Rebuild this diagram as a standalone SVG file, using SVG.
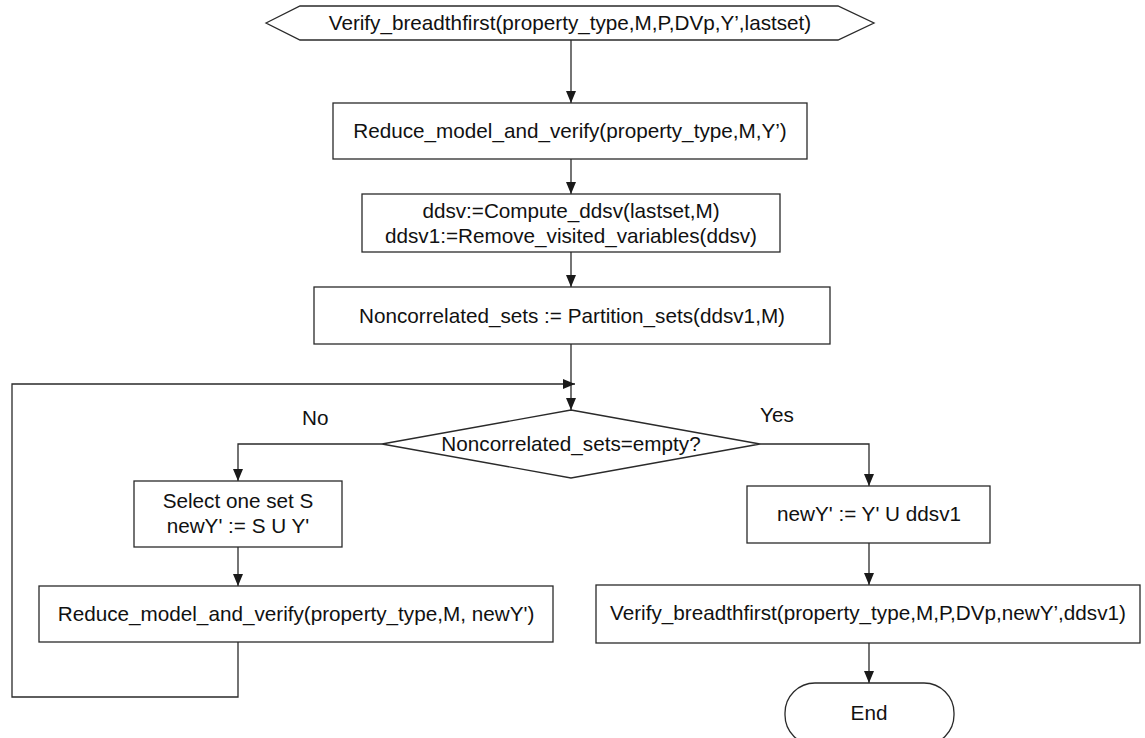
<svg xmlns="http://www.w3.org/2000/svg" width="1145" height="738" viewBox="0 0 1145 738">
  <defs>
    <marker id="arrow" viewBox="0 0 12 10" refX="12" refY="5" markerWidth="12" markerHeight="10" markerUnits="userSpaceOnUse" orient="auto">
      <path d="M0,0 L12,5 L0,10 z" fill="#1a1a1a"/>
    </marker>
    <style>
      .shape { fill: #ffffff; stroke: #2a2a2a; stroke-width: 1.3; }
      .edge { fill: none; stroke: #2a2a2a; stroke-width: 1.3; }
      .lbl { font-family: "Liberation Sans", Arial, Helvetica, sans-serif; font-size: 20.7px; fill: #111111; text-anchor: middle; }
      .tag { font-family: "Liberation Sans", Arial, Helvetica, sans-serif; font-size: 20.7px; fill: #111111; }
    </style>
  </defs>
  <rect width="1145" height="738" fill="#ffffff"/>

  <!-- connectors -->
  <g id="connectors">
    <line class="edge" x1="571" y1="40" x2="571" y2="103" marker-end="url(#arrow)"/>
    <line class="edge" x1="571" y1="159" x2="571" y2="194" marker-end="url(#arrow)"/>
    <line class="edge" x1="571" y1="252" x2="571" y2="287" marker-end="url(#arrow)"/>
    <line class="edge" x1="571" y1="344" x2="571" y2="410" marker-end="url(#arrow)"/>
    <!-- loop back from the No branch -->
    <polyline class="edge" points="238,642 238,697 12,697 12,384 575,384" marker-end="url(#arrow)"/>
    <!-- No branch -->
    <polyline class="edge" points="382,444 238,444 238,481" marker-end="url(#arrow)"/>
    <line class="edge" x1="238" y1="547" x2="238" y2="586" marker-end="url(#arrow)"/>
    <!-- Yes branch -->
    <polyline class="edge" points="760,444 869,444 869,486" marker-end="url(#arrow)"/>
    <line class="edge" x1="869" y1="543" x2="869" y2="585" marker-end="url(#arrow)"/>
    <line class="edge" x1="869" y1="643" x2="869" y2="683" marker-end="url(#arrow)"/>
    <text class="tag" x="302" y="425">No</text>
    <text class="tag" x="760" y="422">Yes</text>
  </g>

  <g id="start">
    <polygon class="shape" points="266,23 300,6 838,6 874,23 838,40 300,40"/>
    <text class="lbl" x="570" y="30">Verify_breadthfirst(property_type,M,P,DVp,Y’,lastset)</text>
  </g>

  <g id="reduce-verify">
    <rect class="shape" x="333" y="103" width="474" height="56"/>
    <text class="lbl" x="570" y="138">Reduce_model_and_verify(property_type,M,Y’)</text>
  </g>

  <g id="compute-ddsv">
    <rect class="shape" x="362" y="194" width="418" height="58"/>
    <text class="lbl" x="571" y="218">ddsv:=Compute_ddsv(lastset,M)</text>
    <text class="lbl" x="571" y="243">ddsv1:=Remove_visited_variables(ddsv)</text>
  </g>

  <g id="partition">
    <rect class="shape" x="314" y="287" width="516" height="57"/>
    <text class="lbl" x="572" y="323">Noncorrelated_sets := Partition_sets(ddsv1,M)</text>
  </g>

  <g id="decision">
    <polygon class="shape" points="571,410 760,444 571,478 382,444"/>
    <text class="lbl" x="571" y="451">Noncorrelated_sets=empty?</text>
  </g>

  <g id="select-set">
    <rect class="shape" x="134" y="481" width="208" height="66"/>
    <text class="lbl" x="238" y="508">Select one set S</text>
    <text class="lbl" x="238" y="533">newY' := S U Y'</text>
  </g>

  <g id="reduce-verify-new">
    <rect class="shape" x="39" y="586" width="514" height="56"/>
    <text class="lbl" x="296" y="621">Reduce_model_and_verify(property_type,M, newY')</text>
  </g>

  <g id="union">
    <rect class="shape" x="747" y="486" width="243" height="57"/>
    <text class="lbl" x="869" y="521">newY' := Y' U ddsv1</text>
  </g>

  <g id="recurse">
    <rect class="shape" x="596" y="585" width="544" height="58"/>
    <text class="lbl" x="868" y="620">Verify_breadthfirst(property_type,M,P,DVp,newY’,ddsv1)</text>
  </g>

  <g id="end">
    <rect class="shape" x="785" y="683" width="169" height="62" rx="30" ry="30"/>
    <text class="lbl" x="869" y="720">End</text>
  </g>
</svg>
